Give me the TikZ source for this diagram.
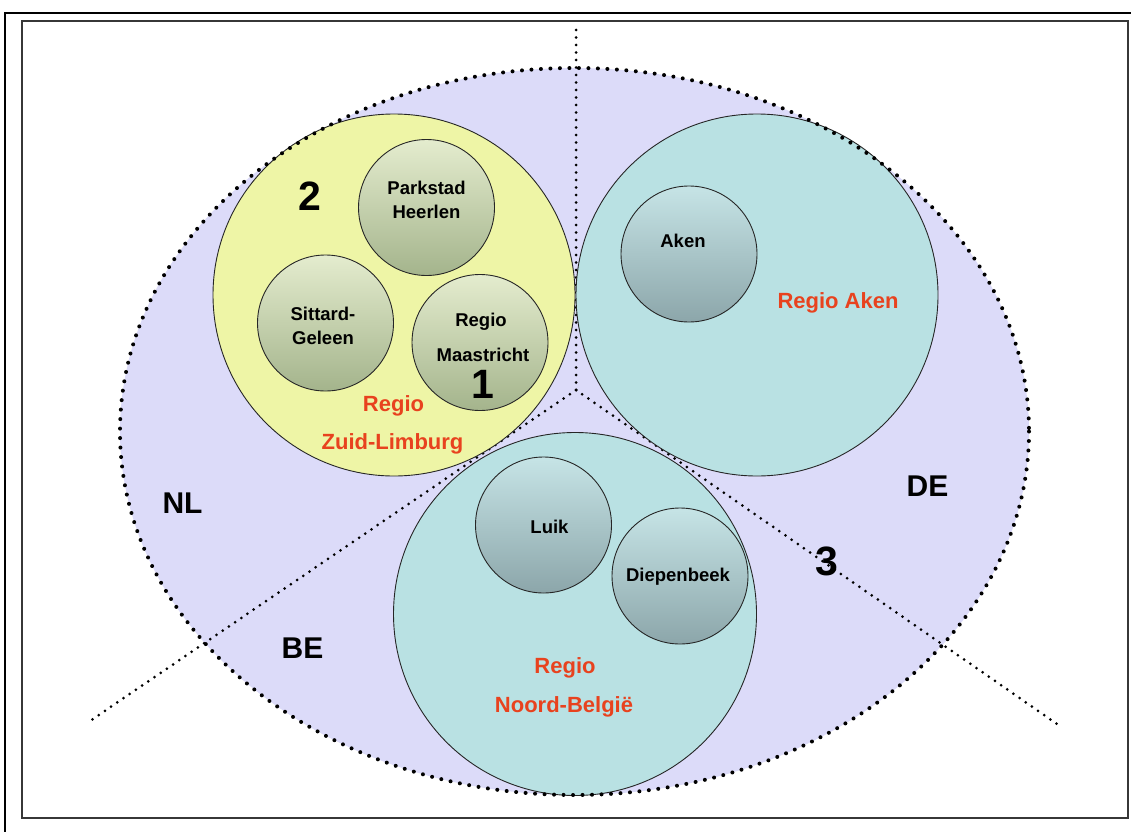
\documentclass[tikz,border=0pt]{standalone}
\usepackage{fontspec}
\setmainfont{Liberation Sans}
\definecolor{lavender}{RGB}{220,219,249}
\definecolor{lemon}{RGB}{238,245,166}
\definecolor{aqua}{RGB}{185,225,227}
\definecolor{greentop}{RGB}{228,236,206}
\definecolor{greenbot}{RGB}{164,180,140}
\definecolor{aquatop}{RGB}{198,228,230}
\definecolor{aquabot}{RGB}{140,166,170}
\definecolor{regionred}{RGB}{232,66,30}
\definecolor{framegray}{RGB}{55,55,55}
\begin{document}
\begin{tikzpicture}[x=1pt,y=-1pt,
  bigdots/.style={line width=4pt, line cap=round, dash pattern=on 0pt off 9.5pt},
  smalldots/.style={line width=3pt, line cap=round, dash pattern=on 0pt off 7.5pt},
  region/.style={circle, draw=black!85, line width=0.9pt, inner sep=0pt, minimum size=#1},
  town/.style={circle, draw=black!85, line width=0.9pt, inner sep=0pt, minimum size=136pt},
  greentown/.style={town, top color=greentop, bottom color=greenbot},
  aquatown/.style={town, top color=aquatop, bottom color=aquabot},
  townlabel/.style={font=\fontsize{18.5}{18.5}\selectfont\bfseries, anchor=base, inner sep=0pt},
  redlabel/.style={font=\fontsize{22}{22}\selectfont\bfseries, text=regionred, anchor=base, inner sep=0pt},
  country/.style={font=\fontsize{30}{30}\selectfont\bfseries, anchor=base, inner sep=0pt},
  number/.style={font=\fontsize{41}{41}\selectfont\bfseries, anchor=base, inner sep=0pt}
]
\useasboundingbox (0,0) rectangle (1131,832);

% page frames
\draw[line width=2.6pt] (1131,13) -- (5,13) -- (5,832);
\draw[line width=2pt, framegray] (22,21) rectangle (1128,818);

% Euregio ellipse
\fill[lavender] (574.5,431.5) ellipse [x radius=454.5, y radius=363.5];

% country borders
\coordinate (meet) at (576,390);
\coordinate (northend) at (576,27);
\coordinate (westend) at (90,721);
\coordinate (eastend) at (1057,724);
\draw[smalldots] (meet) -- (northend);
\draw[smalldots] (meet) -- (westend);
\draw[smalldots] (meet) -- (eastend);

% regions
\node[region=362pt, fill=lemon] (zl) at (394,295) {};
\node[region=362pt, fill=aqua] (ra) at (757,295) {};
\node[region=363pt, fill=aqua] (nb) at (575,614) {};

% ellipse outline
\draw[bigdots] (574.5,431.5) ellipse [x radius=454.5, y radius=363.5];

% towns
\node[greentown] (ph) at (426.5,207.5) {};
\node[greentown] (sg) at (325.5,323) {};
\node[greentown] (rm) at (480,342.5) {};
\node[aquatown] (ak) at (689,254) {};
\node[aquatown] (lk) at (543.5,525) {};
\node[aquatown] (db) at (680,576) {};

% town names
\node[townlabel] (ph1) at (426.5,194) {Parkstad};
\node[townlabel] (ph2) at (426.5,218) {Heerlen};
\node[townlabel] (sg1) at (323,320) {Sittard-};
\node[townlabel] (sg2) at (323,344) {Geleen};
\node[townlabel] (rm1) at (481,326) {Regio};
\node[townlabel] (rm2) at (483,361) {Maastricht};
\node[townlabel] (akl) at (683,247) {Aken};
\node[townlabel] (lkl) at (549.5,533) {Luik};
\node[townlabel] (dbl) at (678,581) {Diepenbeek};

% region names
\node[redlabel] (zl1) at (393.5,411) {Regio};
\node[redlabel] (zl2) at (392.5,449) {Zuid-Limburg};
\node[redlabel] (ra1) at (838,308) {Regio Aken};
\node[redlabel] (nb1) at (565,673) {Regio};
\node[redlabel] (nb2) at (564,712.5) {Noord-België};

% countries
\node[country] (nl) at (182.5,513) {NL};
\node[country] (be) at (302.5,658) {BE};
\node[country] (de) at (927.5,496) {DE};

% numbers
\node[number] (n1) at (483,398) {1};
\node[number] (n2) at (310,210) {2};
\node[number] (n3) at (827,575) {3};
\end{tikzpicture}
\end{document}
